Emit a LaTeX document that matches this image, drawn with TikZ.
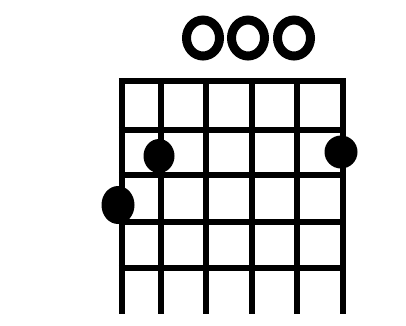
\documentclass[tikz,border=0pt]{standalone}
\begin{document}
\begin{tikzpicture}[x=1pt,y=-1pt,
  gridline/.style={line width=6.5pt,black},
  fingerdot/.style={fill=black},
  openring/.style={draw=black,line width=9pt}]
\useasboundingbox (0,0) rectangle (406,325);
% strings
\foreach \x in {122,161,206,252,297,343}
  \draw[gridline] (\x,78) -- (\x,314);
% frets
\foreach \y in {81,130,175,222,268}
  \draw[gridline] (118.75,\y) -- (346.25,\y);
% open strings
\foreach \x in {203,248,294}
  \draw[openring] (\x,38) ellipse (16.5 and 18);
% fingers
\fill[fingerdot] (159,156) ellipse (15.5 and 17);
\fill[fingerdot] (341,152) ellipse (16.5 and 16.5);
\fill[fingerdot] (118,205) ellipse (16.5 and 19);
\end{tikzpicture}
\end{document}
